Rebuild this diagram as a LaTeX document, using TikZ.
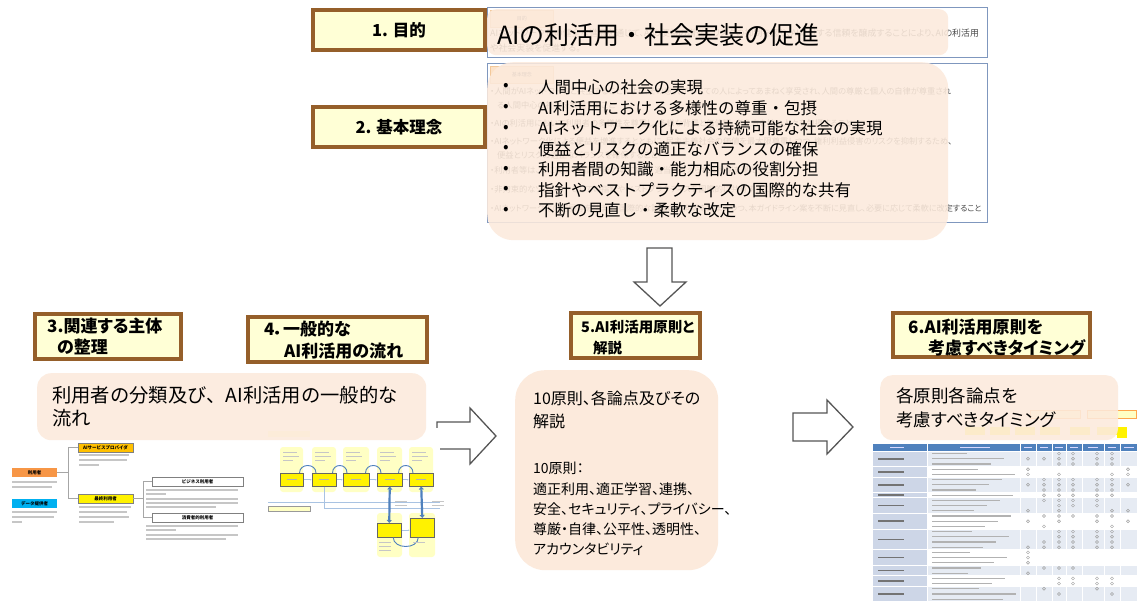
\documentclass[tikz,border=0pt]{standalone}
\usepackage{fontspec}
\setmainfont{Noto Sans CJK JP}
\newfontfamily\pf{Noto Sans CJK JP}[RawFeature=+palt]
\usetikzlibrary{arrows.meta}
\definecolor{lblfill}{HTML}{FFFFD6}
\definecolor{lblbd}{HTML}{955F2A}
\definecolor{peach}{HTML}{FCEADC}
\definecolor{bluebd}{HTML}{7F97BE}
\definecolor{faintc}{HTML}{4A4A4A}
\definecolor{arrowc}{HTML}{555555}
\definecolor{tabfill}{HTML}{FCE2C8}
\definecolor{tabbd}{HTML}{F2C89A}
\definecolor{orangeT}{HTML}{F79646}
\definecolor{goldT}{HTML}{FFC000}
\definecolor{cyanT}{HTML}{00B0F0}
\definecolor{paleY}{HTML}{FFFFC4}
\definecolor{flowblue}{HTML}{4F81BD}
\definecolor{lineblue}{HTML}{A9C3E2}
\definecolor{tblhead}{HTML}{4F81BD}
\definecolor{tblband}{HTML}{E6EBF3}
\definecolor{tblfirst}{HTML}{CDD6E7}
\begin{document}
\begin{tikzpicture}[x=1pt,y=-1pt,
  lbl/.style={draw=lblbd, line width=3.5pt, fill=lblfill, inner sep=0pt},
  lbltxt/.style={anchor=west, inner sep=0pt, font=\pf\bfseries\fontsize{17}{19}\selectfont},
  bluebox/.style={draw=bluebd, line width=1.2pt, fill=white, inner sep=0pt, anchor=north west},
  peachbox/.style={fill=peach, fill opacity=0.88, inner sep=0pt, anchor=north west},
  faint/.style={anchor=west, inner sep=0pt, text=faintc, font=\pf\fontsize{8.25}{9}\selectfont},
  tabbox/.style={fill=tabfill, draw=tabbd, line width=0.5pt, inner sep=0pt, anchor=north west, minimum width=63pt, minimum height=17pt, text=faintc, font=\fontsize{5}{6}\selectfont},
  btxt/.style={anchor=west, inner sep=0pt, font=\fontsize{16.5}{19}\selectfont},
  ptxt/.style={anchor=west, inner sep=0pt, font=\pf\fontsize{#1}{#1}\selectfont},
  barrow/.style={draw=arrowc, line width=1.3pt, fill=white, line join=miter},
  tbox/.style={inner sep=0pt, font=\bfseries\fontsize{4.5}{5}\selectfont},
  tline/.style={draw=gray!70, line width=0.8pt},
  ybox/.style={fill=yellow, draw=black!60, line width=0.5pt},
]
\useasboundingbox (0,0) rectangle (1138,601);
\fill[white] (0,0) rectangle (1138,601);
\begin{scope}
\clip (0,0) rectangle (1138,601);

% ================= 1. purpose =================
\node[lbl, minimum width=172pt, minimum height=40pt] (l1) at (399,30) {};
\node[lbltxt, anchor=center, font=\pf\bfseries\fontsize{16.5}{19}\selectfont] (l1t) at (l1.center) {1. 目的};
\node[bluebox, minimum width=500pt, minimum height=50pt] (b1) at (487,7) {};
\node[tabbox] (tab1) at (490,10) {目的};
\node[faint, font=\pf\fontsize{8.9}{9}\selectfont] (f1a) at (490,33) {AIネットワーク化の健全な進展を通じて、AIの便益の増進とリスクの抑制を図り、AIに対する信頼を醸成することにより、AIの利活用};
\node[faint, font=\pf\fontsize{8.9}{9}\selectfont] (f1b) at (490,48) {や社会実装を促進する。};
\node[peachbox, rounded corners=9pt, minimum width=461pt, minimum height=46pt] (p1) at (487,9) {};
\node[anchor=west, inner sep=0pt, font=\fontsize{25}{30}\selectfont] (t1) at (497,35) {AIの利活用・社会実装の促進};

% ================= 2. basic ideas =================
\node[lbl, minimum width=172pt, minimum height=40pt] (l2) at (399,127) {};
\node[lbltxt, anchor=center, font=\pf\bfseries\fontsize{16.5}{19}\selectfont] (l2t) at (l2.center) {2. 基本理念};
\node[bluebox, minimum width=500pt, minimum height=159pt] (b2) at (487,63) {};
\node[tabbox] (tab2) at (490,66) {基本理念};
\node[faint] (f2a) at (490,91) {・人間がAIネットワークと共生することにより、その恵沢がすべての人によってあまねく享受され、人間の尊厳と個人の自律が尊重され};
\node[faint] (f2b) at (497,105) {る人間中心の社会を実現すること};
\node[faint] (f2c) at (490,123) {・AIの利活用において利用者の多様性を尊重し、多様な背景と価値観、考え方を持つ人々を包摂すること};
\node[faint] (f2d) at (490,141) {・AIネットワーク化による便益を増進するとともに、民主主義社会の価値を最大限尊重しつつ、権利利益侵害のリスクを抑制するため、};
\node[faint] (f2e) at (497,155) {便益とリスクの適正なバランスを確保すること};
\node[faint] (f2f) at (490,170) {・利用者等は、AIに関する知識や能力等に応じ、適当と考えられる役割を果たすこと};
\node[faint] (f2g) at (490,189) {・非拘束的なソフトローとしての指針やベストプラクティスを国際的に共有すること};
\node[faint, font=\pf\fontsize{8.1}{9}\selectfont] (f2h) at (490,208) {・AIネットワーク化の進展等を踏まえ、国際的な議論の動向等を踏まえつつ、本ガイドライン案を不断に見直し、必要に応じて柔軟に改定すること};
\node[peachbox, rounded corners=26pt, minimum width=461pt, minimum height=178pt] (p2) at (487,62) {};
\foreach \yy/\tt [count=\i] in {87/人間中心の社会の実現, 108/AI利活用における多様性の尊重・包摂, 128.5/AIネットワーク化による持続可能な社会の実現, 149/便益とリスクの適正なバランスの確保, 169.5/利用者間の知識・能力相応の役割分担, 190/指針やベストプラクティスの国際的な共有, 210.5/不断の見直し・柔軟な改定}{
  \node[btxt] (bu\i) at (503,\yy) {•};
  \node[btxt] (bt\i) at (538,\yy) {\tt};
}

% down arrow
\draw[barrow] (647,248) -- (672,248) -- (672,282) -- (686,282) -- (660,306) -- (634,282) -- (647,282) -- cycle;

% ================= 3 / 4 labels =================
\node[lbl, minimum width=146pt, minimum height=45pt] (l3) at (108,336.5) {};
\node[lbltxt] (l3a) at (47,326) {3.関連する主体};
\node[lbltxt] (l3b) at (57,347) {の整理};
\node[lbl, minimum width=179pt, minimum height=45pt] (l4) at (337.5,339.5) {};
\node[lbltxt] (l4a) at (264,329) {4．一般的な};
\node[lbltxt] (l4b) at (284,351) {AI利活用の流れ};

% right arrow 1
\draw[barrow] (437,422) -- (470,422) -- (470,408) -- (496,436) -- (470,464) -- (470,449) -- (437,449) -- cycle;

% ---------- left thumbnail ----------
\node[tbox, fill=orangeT, minimum width=45pt, minimum height=9pt] (u1) at (34.5,472.5) {利用者};
\node[tbox, fill=cyanT, minimum width=45pt, minimum height=9pt] (u2) at (34.5,503.5) {データ提供者};
\node[tbox, fill=goldT, draw=gray, line width=0.3pt, minimum width=55pt, minimum height=9pt] (sp) at (105.5,447.5) {AIサービスプロバイダ};
\node[tbox, fill=yellow, draw=gray, line width=0.3pt, minimum width=55pt, minimum height=9pt] (eu) at (105.5,498.5) {最終利用者};
\node[tbox, fill=white, draw=gray, line width=0.4pt, minimum width=91pt, minimum height=9pt] (bu) at (197.5,481.5) {ビジネス利用者};
\node[tbox, fill=white, draw=gray, line width=0.4pt, minimum width=91pt, minimum height=9pt] (cu) at (197.5,517.5) {消費者的利用者};
\coordinate (j1) at (68,472.5);
\coordinate (j2) at (143,498.5);
\draw[tline] (u1.east) -- (j1) |- (sp.west);
\draw[tline] (j1) |- (eu.west);
\draw[tline] (eu.east) -- (j2) |- (bu.west);
\draw[tline] (j2) |- (cu.west);
\foreach \x/\y/\l in {12/482/45,12/487/40,12/512/45,12/517/42,12/522/10,
  79/455/50,79/460/48,79/465/20, 79/507/52,79/512/48,79/517/50,79/522/35,
  146/490/92,146/494/20,146/499/92,146/503/92,146/507/70,
  146/526/92,146/530/30,146/535/92,146/539/80} {
  \fill[gray!45] (\x,\y-0.8) rectangle ++(\l,1.6);
}

% ---------- flow thumbnail ----------
\fill[white] (268,428) rectangle (440,562);
\fill[paleY] (268,431) rectangle (310,437);
\foreach \a/\b [count=\i] in {280/303,312/336,343/369,377/402,409/433}{
  \fill[paleY, rounded corners=3pt] (\a,447) rectangle (\b,492);
  \node[ybox, minimum width={\b-\a}, minimum height=13pt, inner sep=0pt, anchor=north west] (fb\i) at (\a,473) {};
  \fill[gray!45] (\a+3,452) rectangle ++(14,1.2);
  \fill[gray!45] (\a+3,456) rectangle ++(16,1.2);
  \fill[gray!45] (\a+3,460) rectangle ++(10,1.2);
  \fill[gray!60] ({(\a+\b)/2-5},479) rectangle ++(10,1.3);
}
\foreach \i/\j in {1/2,2/3,3/4,4/5}{
  \draw[flowblue, line width=0.9pt] ([xshift=-4pt]fb\i.north east) .. controls ++(0,-10) and ++(0,-10) .. ([xshift=4pt]fb\j.north west);
  \draw[-{Latex[length=2pt]}, lineblue, line width=0.8pt] (fb\i.east) -- (fb\j.west);
}
\draw[lineblue, line width=0.6pt] (268,502) -- (440,502);
\node[fill=paleY, draw=black!40, line width=0.3pt, minimum width=42pt, minimum height=5pt, inner sep=0pt, anchor=north west] (ftag) at (268,506) {};
\draw[lineblue, line width=0.6pt] (fb2.south) -- (fb2.south |- 0,508) -- (440,508);
\fill[paleY, rounded corners=3pt] (377,513) rectangle (402,557);
\fill[paleY, rounded corners=3pt] (409,513) rectangle (435,557);
\node[ybox, minimum width=24pt, minimum height=14pt, inner sep=0pt, anchor=north west] (fb6) at (377,523) {};
\node[ybox, minimum width=24pt, minimum height=19pt, inner sep=0pt, anchor=north west] (fb7) at (410,518) {};
\draw[flowblue, line width=2.2pt, {Triangle[length=3pt,width=5pt]}-{Triangle[length=3pt,width=5pt]}] (fb4.south) -- (fb6.north);
\draw[flowblue, line width=2.2pt, {Triangle[length=3pt,width=5pt]}-{Triangle[length=3pt,width=5pt]}] (fb5.south) -- (fb7.north);
\draw[-{Latex[length=2pt]}, lineblue, line width=0.8pt] (fb6.east) -- (fb7.west |- fb6.east);
\draw[flowblue, line width=0.9pt] ([xshift=4pt]fb6.south) .. controls ++(0,12) and ++(0,12) .. ([xshift=-4pt]fb7.south);
\foreach \x/\y in {379/542,379/546,379/550,413/542,395/501,395/505,432/501,432/505}{\fill[gray!45] (\x,\y) rectangle ++(12,1.2);}

% peach 3
\node[peachbox, rounded corners=14pt, minimum width=389pt, minimum height=67pt] (p3) at (37,373) {};
\node[anchor=west, inner sep=0pt, font=\fontsize{19.3}{22}\selectfont] (t3a) at (52,395) {利用者の分類及び、AI利活用の一般的な};
\node[anchor=west, inner sep=0pt, font=\fontsize{19.3}{22}\selectfont] (t3b) at (52,418) {流れ};

% ================= 5 =================
\node[lbl, minimum width=129pt, minimum height=45pt] (l5) at (635.5,335.5) {};
\node[lbltxt, font=\pf\bfseries\fontsize{14.5}{17}\selectfont] (l5a) at (581,327) {5.AI利活用原則と};
\node[lbltxt, font=\pf\bfseries\fontsize{14.5}{17}\selectfont] (l5b) at (593,348) {解説};
\node[peachbox, rounded corners=30pt, minimum width=203pt, minimum height=200pt, fill opacity=1] (p5) at (515,370) {};
\node[ptxt=16] (t5a) at (533,398) {10原則、各論点及びその};
\node[ptxt=16] (t5b) at (533,421) {解説};
\node[ptxt=14] (t5c) at (533,468) {10原則：};
\node[ptxt=14] (t5d) at (533,489) {適正利用、適正学習、連携、};
\node[ptxt=14] (t5e) at (533,509) {安全、セキュリティ、プライバシー、};
\node[ptxt=14] (t5f) at (533,529) {尊厳・自律、公平性、透明性、};
\node[ptxt=14] (t5g) at (533,549) {アカウンタビリティ};

% right arrow 2
\draw[barrow] (793,413) -- (827,413) -- (827,400) -- (853,427) -- (827,454) -- (827,441) -- (793,441) -- cycle;

% ================= 6 =================
\node[lbl, minimum width=197pt, minimum height=44pt] (l6) at (991.5,335) {};
\node[lbltxt] (l6a) at (908,327) {6.AI利活用原則を};
\node[lbltxt] (l6b) at (928,348) {考慮すべきタイミング};

% faint flow behind peach 6
\foreach \a in {965,990,1015,1040,1070,1097}{\fill[yellow!70] (\a,427) rectangle ++(20,8);}
\fill[yellow] (1117,427) rectangle (1127,438);
\node[fill=paleY, draw=orange!60, line width=0.5pt, minimum width=50pt, minimum height=8pt, inner sep=0pt, anchor=north west] (ov1) at (1030,410) {};
\node[fill=paleY, draw=orange!70, line width=0.5pt, minimum width=49pt, minimum height=8pt, inner sep=0pt, anchor=north west] (ov2) at (1087,410) {};

\node[peachbox, rounded corners=12pt, minimum width=238pt, minimum height=65pt] (p6) at (880,375) {};
\node[ptxt=17.5] (t6a) at (896,396) {各原則各論点を};
\node[ptxt=17.5] (t6b) at (896,420) {考慮すべきタイミング};

% table thumbnail
\fill[tblhead] (873,444) rectangle (1137,451);
\foreach \s/\e/\k in {0/2/0,3/4/1,5/7/0,8/8/1,9/11/0,12/14/1,15/18/0,19/21/1,22/23/0,24/25/1,26/28/0}{
  \pgfmathsetmacro\ya{451+\s*5.2}
  \pgfmathsetmacro\yb{451+(\e+1)*5.2}
  \ifnum\k=0 \fill[tblband] (873,\ya) rectangle (1137,\yb); \fi
  \fill[tblfirst] (873,\ya) rectangle (927,\yb);
  \draw[white, line width=0.7pt] (873,\ya) -- (1137,\ya);
  \fill[black!55] (878,{(\ya+\yb)/2-0.8}) rectangle ++(26,1.6);
}
\foreach \r in {0,...,28}{
  \pgfmathsetmacro\ly{451+\r*5.2+2.6}
  \pgfmathsetmacro\ll{35+mod(\r*37,50)}
  \fill[gray!60] (932,\ly-0.6) rectangle ++(\ll,1.2);
}
\foreach \x in {927,1020,1036,1052,1066,1082,1104,1120}{\draw[white, line width=0.5pt] (\x,444) -- (\x,601);}
\foreach \x/\l in {890/14,960/30,1024/8,1040/8,1055/8,1070/8,1088/10,1108/8,1124/10}{\fill[white!85!blue] (\x,447) rectangle ++(\l,1.3);}
\foreach \r/\c in {0/2,0/3,0/4,0/5,1/0,1/1,1/2,1/3,1/4,1/5,2/2,2/3,2/4,2/5,3/0,3/6,4/0,4/2,4/5,4/6,
  5/1,5/2,5/3,5/4,5/5,6/0,6/1,6/2,6/3,6/4,6/5,6/6,7/1,7/2,7/3,7/4,7/5,8/1,8/2,8/3,8/4,8/5,
  9/1,9/2,9/3,9/4,10/2,10/3,10/4,11/0,11/2,11/5,11/6,12/1,12/2,12/3,12/4,12/5,13/0,13/2,13/4,13/6,
  14/1,14/5,15/2,15/3,15/4,15/5,16/2,16/3,16/4,16/5,17/1,17/2,17/3,17/4,17/5,18/0,18/1,18/2,18/3,18/4,18/5,
  19/0,20/0,21/0,22/1,22/2,22/3,23/0,24/2,24/3,24/4,24/5,25/2,25/3,25/4,25/5,26/1,26/4,27/2,27/5}{
  \pgfmathsetmacro\cx{{1028,1044,1059,1073,1097,1112,1128}[\c]}
  \draw[gray!75, line width=0.45pt] (\cx,{451+\r*5.2+2.6}) circle (1.5pt);
}
\end{scope}
\end{tikzpicture}
\end{document}
